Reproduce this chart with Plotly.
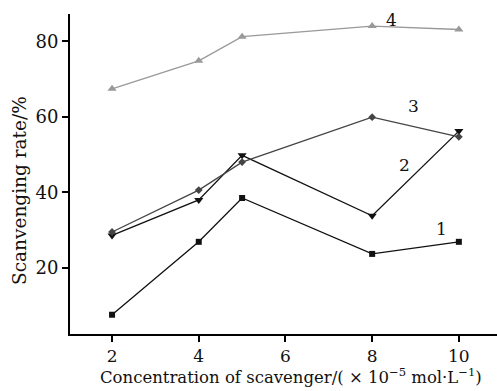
import plotly.graph_objects as go

conc = [2, 4, 5, 8, 10]
s1 = [7.6, 26.9, 38.5, 23.7, 26.9]
s2 = [28.6, 38.0, 49.8, 33.8, 56.2]
s3 = [29.5, 40.6, 48.0, 59.9, 54.7]
s4 = [67.4, 74.8, 81.2, 84.0, 83.1]
series_names = ["1", "2", "3", "4"]
label_pos = [(9.6, 30.3), (8.75, 47.2), (8.95, 62.8), (8.45, 85.6)]
x_title = "Concentration of scavenger/( × 10<sup>−5</sup> mol·L<sup>−1</sup>)"
y_title = "Scanvenging rate/%"

FONT = "DejaVu Serif"
styles = [
    dict(color="#111111", symbol="square", size=6),
    dict(color="#111111", symbol="triangle-down", size=8),
    dict(color="#444444", symbol="diamond", size=6),
    dict(color="#999999", symbol="triangle-up", size=8),
]

fig = go.Figure()
for name, ys, st in zip(series_names, [s1, s2, s3, s4], styles):
    fig.add_trace(go.Scatter(
        x=conc, y=ys, mode="lines+markers", name=name,
        line=dict(color=st["color"], width=1.3),
        marker=dict(color=st["color"], symbol=st["symbol"], size=st["size"]),
        showlegend=False,
    ))

for name, (lx, ly) in zip(series_names, label_pos):
    fig.add_annotation(x=lx, y=ly, text=name, showarrow=False,
                       font=dict(family=FONT, size=17, color="#111111"))

fig.add_annotation(xref="paper", yref="paper", x=0.518, y=-0.13,
                   text=x_title, showarrow=False, xanchor="center", yanchor="middle",
                   font=dict(family=FONT, size=16.5, color="#111111"))
fig.add_annotation(xref="paper", yref="paper", x=-0.117, y=0.447,
                   text=y_title, showarrow=False, textangle=-90,
                   xanchor="center", yanchor="middle",
                   font=dict(family=FONT, size=18.5, color="#111111"))

fig.update_layout(
    width=497, height=391,
    margin=dict(l=70, r=0, t=14, b=57),
    paper_bgcolor="white", plot_bgcolor="white",
    font=dict(family=FONT, size=15, color="#111111"),
    xaxis=dict(
        range=[1.03, 10.88], tickvals=[2, 4, 6, 8, 10],
        showline=True, linecolor="black", linewidth=2,
        ticks="outside", ticklen=6, tickwidth=2, tickcolor="black",
        showgrid=False, zeroline=False,
        tickfont=dict(size=17),
    ),
    yaxis=dict(
        range=[2.5, 87.2], tickvals=[20, 40, 60, 80],
        showline=True, linecolor="black", linewidth=2,
        ticks="outside", ticklen=6, tickwidth=2, tickcolor="black",
        showgrid=False, zeroline=False,
        tickfont=dict(size=18),
    ),
)

fig.write_html("out.html")
